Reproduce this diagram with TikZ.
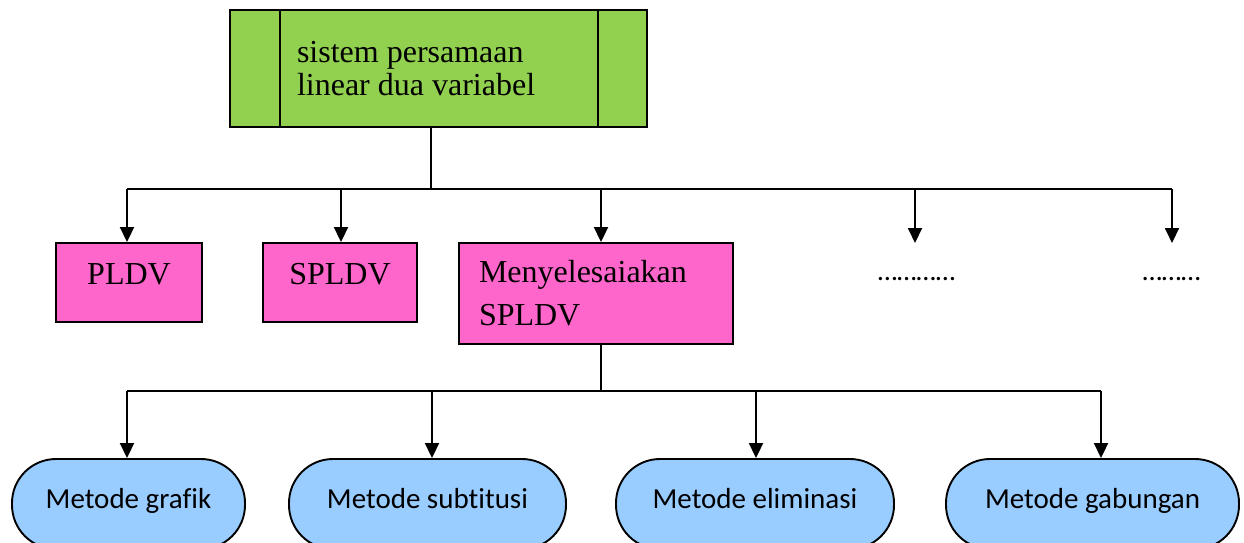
\documentclass[tikz,border=0pt]{standalone}
\usepackage{fontspec}
\setmainfont{Liberation Serif}
\newfontfamily\calfont[Ligatures=NoCommon]{Carlito}
\usetikzlibrary{arrows.meta}
\definecolor{cgreen}{HTML}{92D050}
\definecolor{cpink}{HTML}{FF66CC}
\definecolor{cblue}{HTML}{99CCFF}
\begin{document}
\begin{tikzpicture}[x=1pt,y=-1pt,line width=1.9pt,
  box/.style={draw,rectangle,inner sep=0pt},
  pinkbox/.style={box,fill=cpink,font=\fontsize{32}{36}\selectfont,text height=21pt,text depth=18pt},
  arr/.style={-{Triangle[width=14pt,length=15pt]}},
  pill/.style={draw,fill=cblue,rounded corners=44pt,minimum height=90pt,inner sep=0pt,
    font=\calfont\fontsize{29}{33}\selectfont,text height=20pt,text depth=12pt},
  dotstext/.style={font=\calfont\fontsize{28}{32}\selectfont,inner sep=0pt,anchor=base}]
\useasboundingbox (0,0) rectangle (1244,542);
\clip (0,0) rectangle (1244,542);
% top box
\node[box,fill=cgreen,minimum width=417pt,minimum height=117pt,
  font=\fontsize{32}{33}\selectfont] (top) at (438.5,68.5)
  {\raisebox{3pt}{\parbox{283pt}{\raggedright sistem persamaan\\linear dua variabel}}};
\draw ([xshift=51pt]top.north west) -- ([xshift=51pt]top.south west);
\draw ([xshift=-50pt]top.north east) -- ([xshift=-50pt]top.south east);
% second level
\node[pinkbox,minimum width=146pt,minimum height=79pt] (pldv) at (129,282.5) {PLDV};
\node[pinkbox,minimum width=154pt,minimum height=79pt] (spldv) at (340,282.5) {SPLDV};
\node[box,fill=cpink,minimum width=274pt,minimum height=101pt,text width=234pt,align=left,
  font=\fontsize{32}{43}\selectfont] (meny) at (596,293.5) {Menyelesaiakan\\SPLDV};
\node[dotstext] (dots1) at (916.5,280) {…………};
\node[dotstext] (dots2) at (1171.5,280) {………};
\coordinate (d1tip) at (915,243);
\coordinate (d2tip) at (1172,243);
\coordinate (bus1) at (431,189);
\draw (top.south -| bus1) -- (bus1);
\draw ([xshift=-2pt]pldv.north |- bus1) -- (d2tip |- bus1);
\draw[arr] ([xshift=-2pt]pldv.north |- bus1) -- ([xshift=-2pt]pldv.north);
\draw[arr] ([xshift=1pt]spldv.north |- bus1) -- ([xshift=1pt]spldv.north);
\draw[arr] ([xshift=5pt]meny.north |- bus1) -- ([xshift=5pt]meny.north);
\draw[arr] (d1tip |- bus1) -- (d1tip);
\draw[arr] (d2tip |- bus1) -- (d2tip);
% third level
\node[pill,minimum width=233pt] (m1) at (128.5,504) {Metode grafik};
\node[pill,minimum width=277pt] (m2) at (427.5,504) {Metode subtitusi};
\node[pill,minimum width=278pt] (m3) at (755,504) {Metode eliminasi};
\node[pill,minimum width=293pt] (m4) at (1092.5,504) {Metode gabungan};
\coordinate (bus2) at (601,391);
\draw ([xshift=5pt]meny.south) -- (bus2);
\draw ([xshift=-1.5pt]m1.north |- bus2) -- ([xshift=8.5pt]m4.north |- bus2);
\draw[arr] ([xshift=-1.5pt]m1.north |- bus2) -- ([xshift=-1.5pt]m1.north);
\draw[arr] ([xshift=4.5pt]m2.north |- bus2) -- ([xshift=4.5pt]m2.north);
\draw[arr] ([xshift=1pt]m3.north |- bus2) -- ([xshift=1pt]m3.north);
\draw[arr] ([xshift=8.5pt]m4.north |- bus2) -- ([xshift=8.5pt]m4.north);
\end{tikzpicture}
\end{document}
